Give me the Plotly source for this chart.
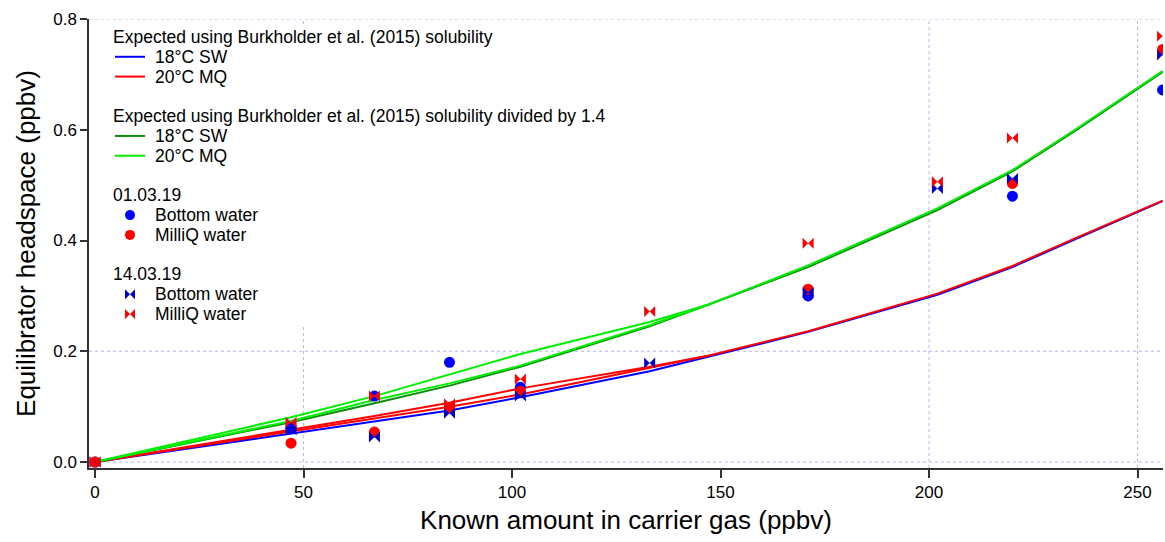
import plotly.graph_objects as go

# ---------------- data ----------------
# 01.03.19 (circles)
x_d1 = [0, 47, 67, 85, 102, 171, 220, 256]
bottom_d1 = [0, 0.061, 0.119, 0.180, 0.135, 0.300, 0.480, 0.672]
milliq_d1 = [0, 0.034, 0.054, 0.098, 0.128, 0.312, 0.503, 0.745]

# 14.03.19 (bowties)
x_d2 = [0, 47, 67, 85, 102, 133, 171, 202, 220, 256]
bottom_d2 = [0, 0.058, 0.045, 0.088, 0.119, 0.179, 0.306, 0.494, 0.512, 0.735]
milliq_d2 = [0, 0.072, 0.119, 0.105, 0.150, 0.272, 0.395, 0.506, 0.585, 0.769]

# expected curves
line_x = [0, 47, 67, 85, 102, 133, 147, 171, 202, 220, 235, 256]
sw18 = [0, 0.052, 0.073, 0.093, 0.117, 0.164, 0.190, 0.235, 0.302, 0.352, 0.402, 0.471]
mq20 = [0, 0.055, 0.078, 0.100, 0.122, 0.170, 0.192, 0.236, 0.304, 0.354, 0.404, 0.472]
sw18_div = [0, 0.072, 0.106, 0.138, 0.172, 0.245, 0.284, 0.352, 0.455, 0.525, 0.598, 0.704]
mq20_div = [0, 0.081, 0.119, 0.158, 0.195, 0.253, 0.284, 0.355, 0.458, 0.527, 0.600, 0.706]

# second strands (other run) at low concentrations
strand_x = [0, 47, 67, 85, 102, 133, 147]
mq20_b = [0, 0.058, 0.083, 0.107, 0.133, 0.172, 0.192]
mq20_div_b = [0, 0.074, 0.112, 0.142, 0.174, 0.247, 0.284]

# grid positions
vgrid = [50, 200, 250]
hgrid = [0.0, 0.2, 0.8]

# legend content (row index, kind, label, colour, symbol)
legend_rows = [
    (0, "title", "Expected using Burkholder et al. (2015) solubility", None, None),
    (1, "line", "18°C SW", "#0000FF", None),
    (2, "line", "20°C MQ", "#FF0000", None),
    (4, "title", "Expected using Burkholder et al. (2015) solubility divided by 1.4", None, None),
    (5, "line", "18°C SW", "#0A8F0A", None),
    (6, "line", "20°C MQ", "#00EE00", None),
    (8, "title", "01.03.19", None, None),
    (9, "marker", "Bottom water", "#0000FF", "circle"),
    (10, "marker", "MilliQ water", "#FF0000", "circle"),
    (12, "title", "14.03.19", None, None),
    (13, "marker", "Bottom water", "#0000CC", "bowtie"),
    (14, "marker", "MilliQ water", "#FF0000", "bowtie"),
]

# ---------------- style ----------------
BLUE = "#0000FF"
RED = "#FF0000"
DGREEN = "#0A8F0A"
LGREEN = "#00EE00"
FONT = "Arial, Liberation Sans, sans-serif"
GRID = "rgba(120,120,255,0.55)"
LEG_FS = 17.5

# plot area in pixels (for legend placement)
L, R, T, B = 89, 1163, 19, 468
W, H = R - L, B - T
def px(xp):
    return (xp - L) / W
def py(yp):
    return (B - yp) / H

fig = go.Figure()

def line(x, y, color, width=2):
    fig.add_trace(go.Scatter(x=x, y=y, mode="lines", showlegend=False,
                             line=dict(color=color, width=width), hoverinfo="skip"))

line(line_x, sw18, BLUE)
line(strand_x, mq20_b, RED)
line(line_x, mq20, RED)
line(line_x, sw18_div, DGREEN)
line(strand_x, mq20_div_b, LGREEN)
line(line_x, mq20_div, LGREEN)

fig.add_trace(go.Scatter(x=x_d1, y=bottom_d1, mode="markers", showlegend=False,
                         marker=dict(symbol="circle", size=11, color=BLUE)))
fig.add_trace(go.Scatter(x=x_d1, y=milliq_d1, mode="markers", showlegend=False,
                         marker=dict(symbol="circle", size=11, color=RED)))
fig.add_trace(go.Scatter(x=x_d2, y=bottom_d2, mode="markers", showlegend=False,
                         marker=dict(symbol="bowtie", size=11, color="#0000CC")))
fig.add_trace(go.Scatter(x=x_d2, y=milliq_d2, mode="markers", showlegend=False,
                         marker=dict(symbol="bowtie", size=11, color=RED)))

# grid
for gx in vgrid:
    fig.add_shape(type="line", xref="x", yref="paper", x0=gx, x1=gx, y0=0, y1=1,
                  line=dict(color=GRID, width=1, dash="dot"), layer="below")
for gy in hgrid:
    fig.add_shape(type="line", xref="paper", yref="y", x0=0, x1=1, y0=gy, y1=gy,
                  line=dict(color=GRID, width=1, dash="dot"), layer="below")

# legend box (white, hides grid behind it)
fig.add_shape(type="rect", xref="paper", yref="paper",
              x0=px(100), x1=px(590), y0=py(326), y1=py(25),
              fillcolor="white", line=dict(width=0), layer="below")

# legend entries
ROW0, PITCH = 37.0, 19.79
mk_x, mk_y, mk_sym, mk_col = [], [], [], []
for row, kind, label, color, sym in legend_rows:
    yy = ROW0 + row * PITCH
    if kind == "title":
        fig.add_annotation(xref="paper", yref="paper", x=px(111), y=py(yy), text=label,
                           showarrow=False, xanchor="left", yanchor="middle",
                           font=dict(size=LEG_FS, family=FONT, color="black"))
        continue
    if kind == "line":
        fig.add_shape(type="line", xref="paper", yref="paper",
                      x0=px(115), x1=px(145), y0=py(yy), y1=py(yy),
                      line=dict(color=color, width=2), layer="above")
    else:
        mk_x.append(px(130)); mk_y.append(py(yy)); mk_sym.append(sym); mk_col.append(color)
    fig.add_annotation(xref="paper", yref="paper", x=px(153), y=py(yy), text=label,
                       showarrow=False, xanchor="left", yanchor="middle",
                       font=dict(size=LEG_FS, family=FONT, color="black"))

fig.add_trace(go.Scatter(x=mk_x, y=mk_y, mode="markers", showlegend=False, xaxis="x2", yaxis="y2",
                         marker=dict(symbol=mk_sym, size=10, color=mk_col), hoverinfo="skip"))

fig.update_layout(
    width=1165, height=542,
    margin=dict(l=L, r=1165 - R, t=T, b=542 - B),
    paper_bgcolor="white", plot_bgcolor="white",
    font=dict(family=FONT, size=17, color="black"),
    showlegend=False,
    xaxis=dict(
        range=[-1.45, 256.1], showgrid=False, zeroline=False,
        showline=True, linecolor="#333333", linewidth=1.5,
        ticks="outside", ticklen=8, tickcolor="#333333", tickwidth=1.5,
        tickvals=[0, 50, 100, 150, 200, 250],
        tickfont=dict(size=17, family=FONT),
        title=dict(text="Known amount in carrier gas (ppbv)", font=dict(size=26, family=FONT), standoff=10),
        automargin=False,
    ),
    yaxis=dict(
        range=[-0.0108, 0.8], showgrid=False, zeroline=False,
        showline=True, linecolor="#333333", linewidth=1.5,
        ticks="outside", ticklen=7, tickcolor="#333333", tickwidth=1.5,
        tickvals=[0, 0.2, 0.4, 0.6, 0.8], tickformat=".1f",
        tickfont=dict(size=17, family=FONT),
        title=dict(text="Equilibrator headspace (ppbv)", font=dict(size=26, family=FONT), standoff=10),
        automargin=False,
    ),
    xaxis2=dict(range=[0, 1], overlaying="x", visible=False, fixedrange=True),
    yaxis2=dict(range=[0, 1], overlaying="y", visible=False, fixedrange=True),
)

fig.write_html("out.html")
